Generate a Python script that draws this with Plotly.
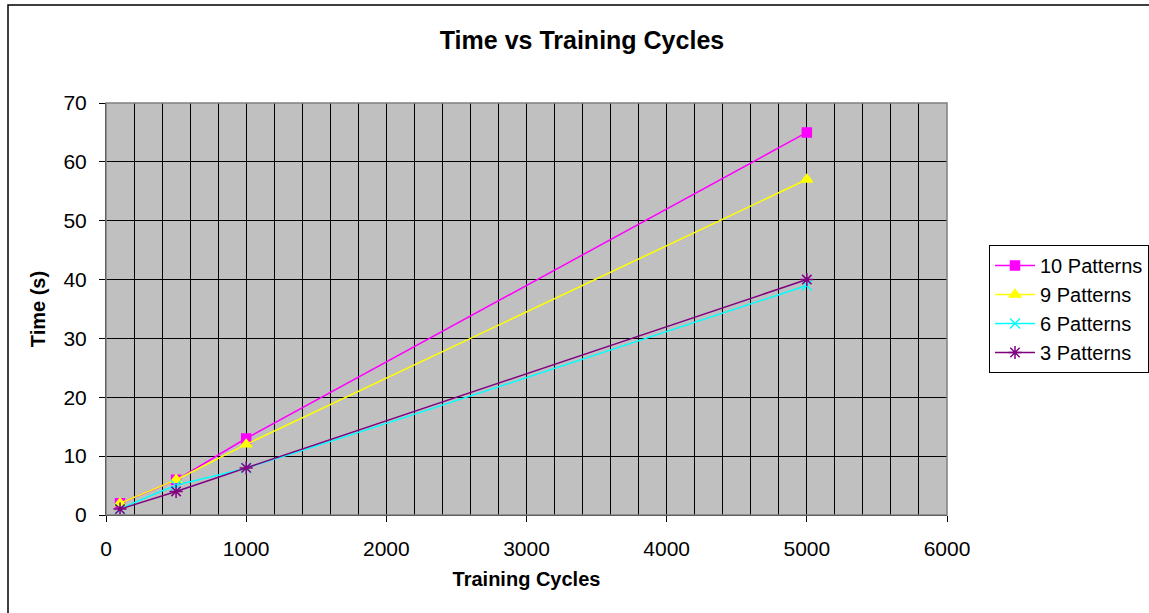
import plotly.graph_objects as go

cycles = [100, 500, 1000, 5000]
p10 = [2, 6, 13, 65]
p9 = [2, 6, 12, 57]
p6 = [1, 5, 8, 39]
p3 = [1, 4, 8, 40]

series = [
    ("10 Patterns", p10, "#FF00FF", "square", 9),
    ("9 Patterns", p9, "#FFFF00", "triangle-up", 10),
    ("6 Patterns", p6, "#00FFFF", "x-thin-open", 10),
    ("3 Patterns", p3, "#800080", "asterisk-open", 11),
]

fig = go.Figure()
for name, vals, col, sym, sz in series:
    fig.add_trace(go.Scatter(
        x=cycles, y=vals, name=name, mode="lines+markers",
        line=dict(color=col, width=1.5, shape="spline", smoothing=0.6),
        marker=dict(symbol=sym, size=sz, color=col, line=dict(color=col, width=1.5)),
    ))

font = "Liberation Sans, Arial, sans-serif"
L, R, T, B = 106, 947, 103, 515
W, H = 1149, 613
pw, ph = R - L, B - T

fig.update_layout(
    width=W, height=H,
    margin=dict(l=L, r=W - R, t=T, b=H - B, autoexpand=False),
    paper_bgcolor="white", plot_bgcolor="#C0C0C0",
    font=dict(family=font, size=21, color="black"),
    title=dict(text="<b>Time vs Training Cycles</b>", x=582 / W, xanchor="center",
               y=1 - 40 / H, yanchor="middle", font=dict(size=25)),
    showlegend=True,
    legend=dict(xref="container", yref="container", x=989 / W, y=1 - 245 / H,
                xanchor="left", yanchor="top",
                bordercolor="black", borderwidth=1, bgcolor="white",
                font=dict(size=20), tracegroupgap=0, itemwidth=40),
    xaxis=dict(range=[0, 6000], dtick=1000, tick0=0, showgrid=True, gridcolor="black", gridwidth=1,
               minor=dict(dtick=200, showgrid=True, gridcolor="black", gridwidth=1, ticks=""),
               ticks="outside", ticklen=6, tickcolor="black", ticklabelstandoff=9,
               showline=True, linecolor="black", linewidth=1, zeroline=False,
               title=dict(text="<b>Training Cycles</b>", standoff=12, font=dict(size=20))),
    yaxis=dict(range=[0, 70], dtick=10, showgrid=True, gridcolor="black", gridwidth=1,
               ticks="outside", ticklen=6, tickcolor="black", ticklabelstandoff=8,
               showline=True, linecolor="black", linewidth=1, zeroline=False,
               title=dict(text="<b>Time (s)</b>", standoff=12, font=dict(size=20))),
)

# plot-area border (top/right gray)
fig.add_shape(type="rect", xref="paper", yref="paper", x0=0, y0=0, x1=1, y1=1,
              line=dict(color="#808080", width=1.5), layer="above")
# outer chart border (only left/top visible in the frame)
fig.add_shape(type="rect", xref="paper", yref="paper",
              x0=(8 - L) / pw, x1=(1160 - L) / pw, y0=(B - 630) / ph, y1=(B - 5) / ph,
              line=dict(color="black", width=1.5))

fig.write_html("out.html", config={"displayModeBar": False},
               post_script="document.body.style.margin='0';")
